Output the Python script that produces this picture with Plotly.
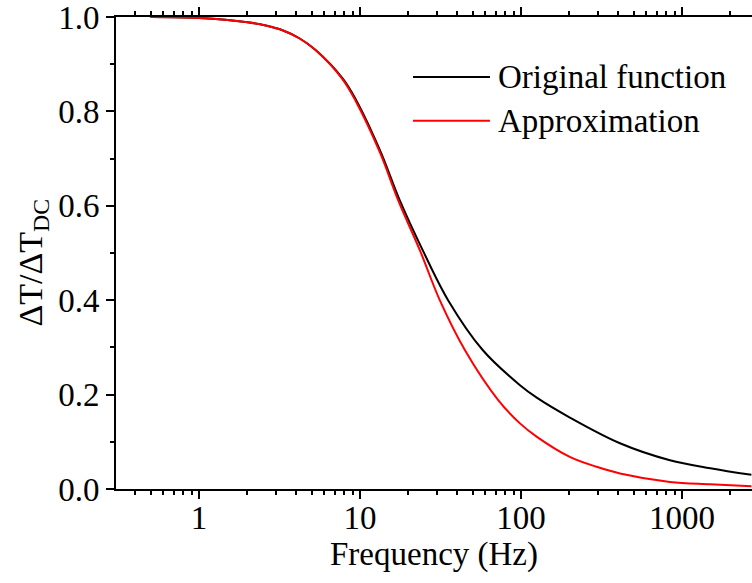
import plotly.graph_objects as go

# Values (frequency in Hz, normalized amplitude)
freq_orig = [0.5, 1, 2, 2.6, 3.3, 4.2, 5.3, 7.8, 9.4, 13.3, 17.7, 24.6, 35.4, 58,
             98.6, 126, 200, 412, 842, 1500, 2700]
original = [1.000, 0.998, 0.989, 0.982, 0.972, 0.955, 0.930, 0.870, 0.826, 0.718,
            0.611, 0.505, 0.399, 0.294, 0.220, 0.193, 0.152, 0.097, 0.061, 0.044,
            0.030]

freq_approx = [0.5, 1, 2, 2.6, 3.3, 4.2, 5.3, 7.8, 9.4, 13.3, 17.3, 23.6, 31.4, 44.9,
               72, 98.6, 125, 201, 295, 412, 842, 1500, 2700]
approx = [1.000, 0.998, 0.989, 0.982, 0.972, 0.955, 0.930, 0.868, 0.822, 0.713,
          0.611, 0.505, 0.399, 0.294, 0.189, 0.139, 0.111, 0.068, 0.047, 0.033,
          0.015, 0.010, 0.006]

x_ticks = [1, 10, 100, 1000]
x_ticktext = ["1", "10", "100", "1000"]
y_ticks = [0.0, 0.2, 0.4, 0.6, 0.8, 1.0]
y_ticktext = ["0.0", "0.2", "0.4", "0.6", "0.8", "1.0"]

series_names = ["Original function", "Approximation"]
series_colors = ["#000000", "#ff0000"]

FONT = "Liberation Serif, Times New Roman, serif"
FS = 33

fig = go.Figure()
fig.add_trace(go.Scatter(x=freq_orig, y=original, mode="lines", name=series_names[0],
                         line=dict(color=series_colors[0], width=2, shape="spline",
                                   smoothing=1.0),
                         showlegend=False))
fig.add_trace(go.Scatter(x=freq_approx, y=approx, mode="lines", name=series_names[1],
                         line=dict(color=series_colors[1], width=2, shape="spline",
                                   smoothing=1.0),
                         showlegend=False))

# manual legend (long line samples as in the reference)
leg_y = [0.873, 0.780]
for name, color, yy in zip(series_names, series_colors, leg_y):
    fig.add_shape(type="line", xref="paper", yref="paper", x0=0.467, x1=0.588,
                  y0=yy, y1=yy, line=dict(color=color, width=2))
    fig.add_annotation(xref="paper", yref="paper", x=0.597, y=yy, text=name,
                       showarrow=False, xanchor="left", yanchor="middle",
                       font=dict(family=FONT, size=FS, color="black"))

# y-axis title placed as in the reference
fig.add_annotation(xref="paper", yref="paper", x=-0.131, y=0.479,
                   text="ΔT/ΔT<sub>DC</sub>", textangle=-90, showarrow=False,
                   xanchor="center", yanchor="middle",
                   font=dict(family=FONT, size=34, color="black"))

fig.update_layout(
    width=752, height=583,
    margin=dict(l=116, r=0, t=17, b=94),
    paper_bgcolor="white", plot_bgcolor="white",
    font=dict(family=FONT, size=FS, color="black"),
    showlegend=False,
)

fig.update_xaxes(
    type="log", range=[-0.5155, 3.435],
    tickvals=x_ticks, ticktext=x_ticktext,
    showgrid=False, zeroline=False,
    showline=True, linecolor="black", linewidth=2, mirror="ticks",
    ticks="outside", ticklen=8, tickwidth=2, tickcolor="black",
    ticklabelstandoff=-10, ticklabeloverflow="allow",
    minor=dict(ticks="outside", ticklen=4, tickwidth=1.5, tickcolor="black",
               dtick="D1", showgrid=False),
    tickfont=dict(family=FONT, size=FS),
    title=dict(text="Frequency (Hz)", font=dict(family=FONT, size=FS), standoff=2),
)
fig.update_yaxes(
    range=[0, 1.0], tickvals=y_ticks, ticktext=y_ticktext,
    showgrid=False, zeroline=False,
    showline=True, linecolor="black", linewidth=2,
    ticks="outside", ticklen=8, tickwidth=2, tickcolor="black",
    ticklabeloverflow="allow",
    minor=dict(ticks="outside", ticklen=4, tickwidth=1.5, tickcolor="black",
               dtick=0.1, showgrid=False),
    tickfont=dict(family=FONT, size=FS),
)

fig.write_html("out.html")
